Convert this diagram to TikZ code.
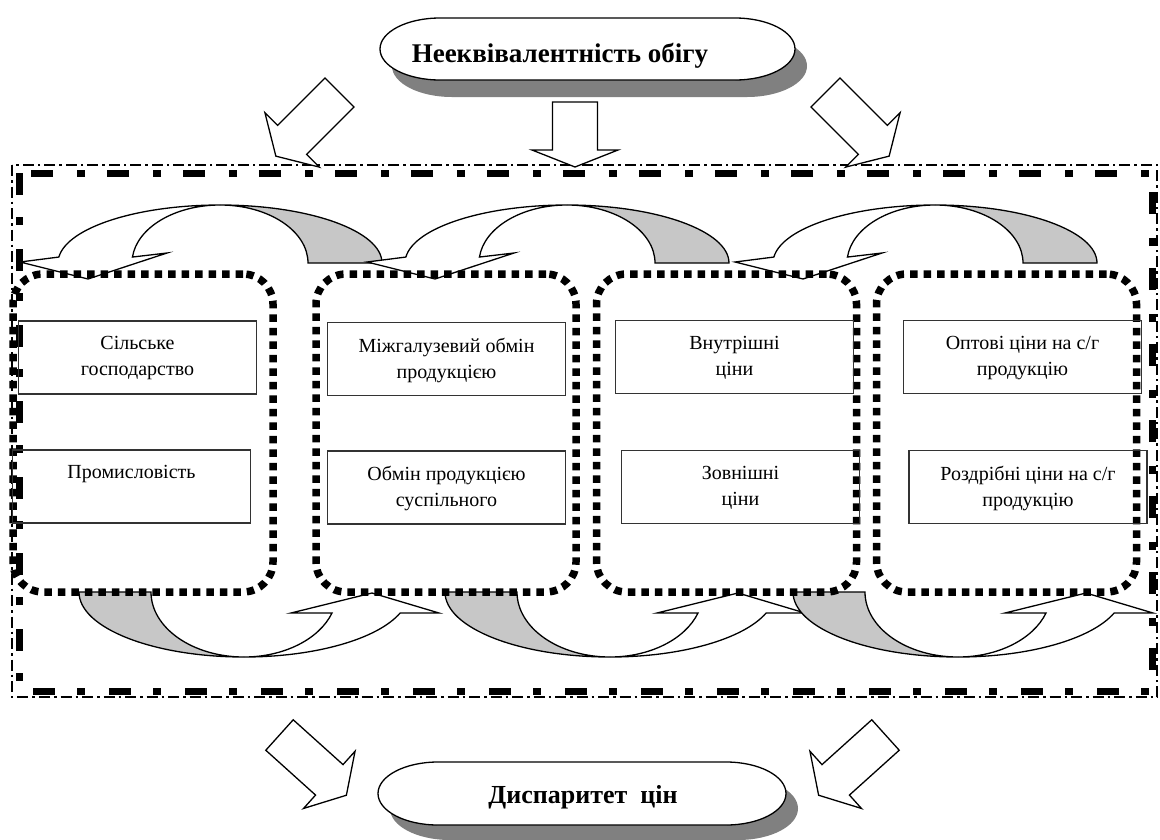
\documentclass[tikz,border=0pt]{standalone}
\usepackage{fontspec}
\setmainfont{Liberation Serif}
\tikzset{
  shapeline/.style={draw=black, line width=1.3pt, line join=miter},
  whitepart/.style={shapeline, fill=white},
  greypart/.style={shapeline, fill=black!22},
  shadowfill/.style={fill=black!50, draw=none},
  dotbox/.style={draw=black, line width=7.5pt, dash pattern=on 7.5pt off 6pt, rounded corners=30pt, minimum width=260pt, minimum height=318pt, inner sep=0pt},
  itembox/.style={draw=black!80, line width=1.4pt, minimum width=238pt, minimum height=73pt, inner sep=0pt},
  itemtext/.style={anchor=north, inner sep=0pt, align=center, font=\fontsize{20}{26}\selectfont},
  titletext/.style={anchor=base, inner sep=0pt, font=\bfseries\fontsize{27}{30}\selectfont},
  framethin/.style={draw=black, line width=1.6pt, dash pattern=on 11pt off 4pt on 2.5pt off 4pt},
  framethick/.style={draw=black, line width=7pt, dash pattern=on 22pt off 22pt on 8pt off 24pt},
  pics/blockarrow/.style n args={4}{code={
    \path[whitepart] (-#1/2,0) -- (#1/2,0) -- (#1/2,-#2) -- (#3/2,-#2) -- (0,-#2-#4) -- (-#3/2,-#2) -- (-#1/2,-#2) -- cycle;
  }},
  pics/stadium/.style n args={3}{code={
    \path[#3] (-#1+60,#2) -- (#1-60,#2) arc[start angle=90,end angle=-90,x radius=60,y radius=#2] -- (-#1+60,-#2) arc[start angle=270,end angle=90,x radius=60,y radius=#2] -- cycle;
  }},
  pics/curvedown/.style={code={
    \path[greypart] (0,58) arc[start angle=90,end angle=0,x radius=162,y radius=58] -- (88,0) arc[start angle=0,end angle=90,x radius=88,y radius=58] -- cycle;
    \path[whitepart] (174.1:162 and 58) arc[start angle=174.1,end angle=90,x radius=162,y radius=58] arc[start angle=90,end angle=174.1,x radius=88,y radius=58] -- (-53,10) -- (-132,-16) -- (-200,1) -- cycle;
  }},
  pics/curveup/.style={code={
    \path[greypart] (-165,0) arc[start angle=180,end angle=270,x radius=165,y radius=65] arc[start angle=270,end angle=180,x radius=93,y radius=65] -- cycle;
    \path[whitepart] (0,-65) arc[start angle=270,end angle=341.15,x radius=165,y radius=65] -- (195,-21) -- (128,-1) -- (47,-21) -- (341.15:93 and 65) arc[start angle=341.15,end angle=270,x radius=93,y radius=65] -- cycle;
  }}
}
\begin{document}
\begin{tikzpicture}[x=1pt,y=1pt]
\useasboundingbox (0,0) rectangle (1160,-839);
\fill[white] (0,0) rectangle (1160,-839);

% outer frame
\draw[framethin] (12,-165) rectangle (1157,-697);
\draw[framethick] (19,-173) rectangle (1152,-691);

% block arrows
\pic[rotate=-45] at (339.5,-92.5) {blockarrow={41}{67}{77}{23}};
\pic at (575,-102) {blockarrow={45}{48}{86}{17}};
\pic[rotate=45] at (825.5,-92.5) {blockarrow={41}{67}{77}{23}};
\pic[rotate=48] at (279.5,-735) {blockarrow={41}{67}{77}{23}};
\pic[rotate=-48] at (885.5,-735) {blockarrow={41}{67}{77}{23}};

% stadiums
\pic at (599.5,-66) {stadium={207.5}{31}{shadowfill}};
\pic at (587.5,-49) {stadium={207.5}{31}{whitepart}};
\pic at (594,-808.5) {stadium={204}{31.5}{shadowfill}};
\pic at (582,-793.5) {stadium={204}{31.5}{whitepart}};
\node[titletext] (title) at (560,-62) {Нееквівалентність обігу};
\node[titletext, font=\bfseries\fontsize{26}{30}\selectfont] (disp) at (583,-803) {Диспаритет\ \ цін};

% curved arrows
\pic at (220,-263) {curvedown};
\pic at (567,-263) {curvedown};
\pic at (935,-263) {curvedown};
\pic at (244,-592) {curveup};
\pic at (610,-592) {curveup};
\pic at (958,-592) {curveup};

% dotted groups
\node[dotbox] (g1) at (143,-433) {};
\node[dotbox] (g2) at (446,-433) {};
\node[dotbox] (g3) at (726.5,-433) {};
\node[dotbox] (g4) at (1006.5,-433) {};

% item boxes
\node[itembox] (a1) at (137.5,-357.5) {};
\node[itembox] (a2) at (131.5,-486.5) {};
\node[itembox] (b1) at (446.5,-359) {};
\node[itembox] (b2) at (446.5,-487.5) {};
\node[itembox] (c1) at (734.5,-357) {};
\node[itembox] (c2) at (740.5,-487) {};
\node[itembox] (d1) at (1022.5,-357) {};
\node[itembox] (d2) at (1028,-487) {};

\node[itemtext] (a1t) at ([yshift=-16pt]a1.north) {Сільське\\господарство};
\node[itemtext] (a2t) at ([yshift=-16pt]a2.north) {Промисловість};
\node[itemtext] (b1t) at ([yshift=-16pt]b1.north) {Міжгалузевий обмін\\продукцією};
\node[itemtext] (b2t) at ([yshift=-16pt]b2.north) {Обмін продукцією\\суспільного};
\node[itemtext] (c1t) at ([yshift=-16pt]c1.north) {Внутрішні\\ціни};
\node[itemtext] (c2t) at ([yshift=-16pt]c2.north) {Зовнішні\\ціни};
\node[itemtext] (d1t) at ([yshift=-16pt]d1.north) {Оптові ціни на с/г\\продукцію};
\node[itemtext] (d2t) at ([yshift=-16pt]d2.north) {Роздрібні ціни на с/г\\продукцію};
\end{tikzpicture}
\end{document}
